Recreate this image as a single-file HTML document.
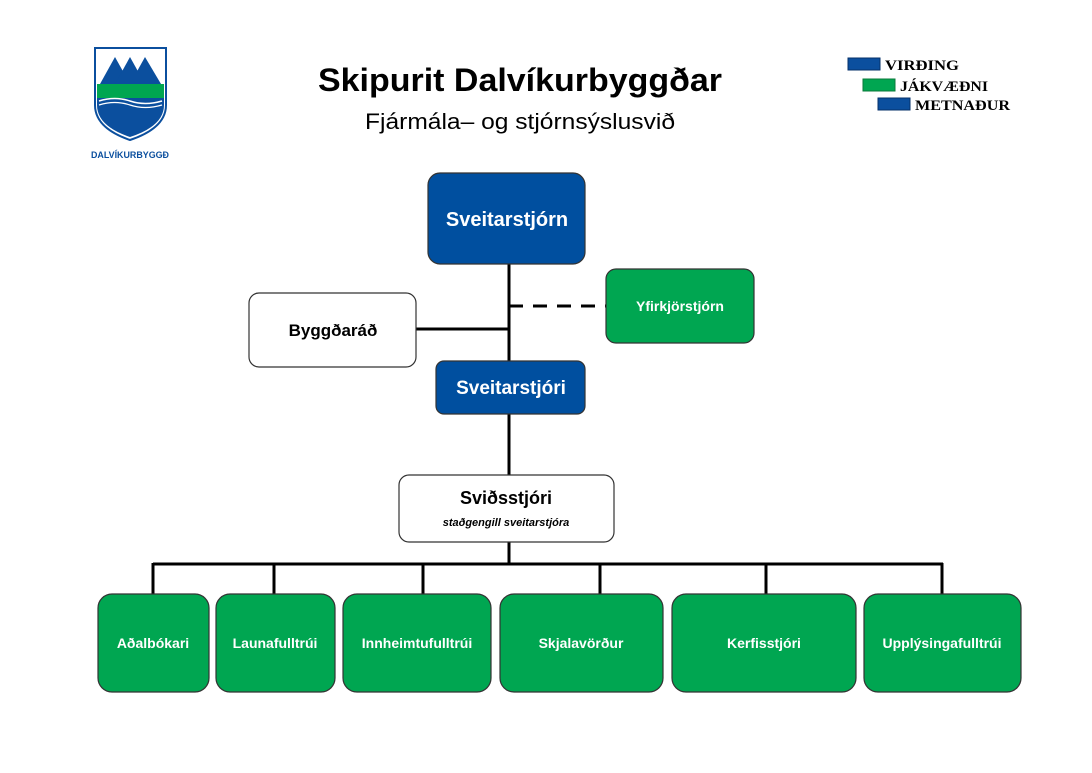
<!DOCTYPE html>
<html><head><meta charset="utf-8"><style>
html,body{margin:0;padding:0;background:#fff;}
svg{display:block;font-family:"Liberation Sans",sans-serif;}
</style></head><body>
<svg width="1092" height="773" viewBox="0 0 1092 773" xmlns="http://www.w3.org/2000/svg">
<g>
  <path d="M95,48 L166,48 L166,105 Q166,128 130,140 Q95,128 95,105 Z" fill="#fff" stroke="#0b4f9e" stroke-width="2"/>
  <polygon points="100,84 115,57 130,84" fill="#0b4f9e"/>
  <polygon points="115,84 130,57 145,84" fill="#0b4f9e"/>
  <polygon points="130,84 145,57 161,84" fill="#0b4f9e"/>
  <rect x="97" y="84" width="67" height="14" fill="#00a651"/>
  <path d="M97,98 L164,98 L164,105 Q164,126 130,137 Q97,126 97,105 Z" fill="#0b4f9e"/>
  <path d="M99,101 Q115,96 130,101 T162,101" fill="none" stroke="#fff" stroke-width="1.5"/>
  <path d="M99,105 Q115,100 130,105 T162,105" fill="none" stroke="#fff" stroke-width="1.2"/>
  <text x="130" y="158" font-size="9" font-weight="bold" fill="#0b4f9e" text-anchor="middle" textLength="78" lengthAdjust="spacingAndGlyphs">DALVÍKURBYGGÐ</text>
</g>
<text x="520" y="91" font-size="32" font-weight="bold" text-anchor="middle" textLength="404" lengthAdjust="spacingAndGlyphs">Skipurit Dalvíkurbyggðar</text>
<text x="520" y="129" font-size="22" text-anchor="middle" textLength="310" lengthAdjust="spacingAndGlyphs">Fjármála– og stjórnsýslusvið</text>
<rect x="848" y="58" width="32" height="12" fill="#0b4f9e" stroke="#06306a"/>
<text x="885" y="70" font-family="Liberation Serif" font-size="15" font-weight="bold" textLength="74" lengthAdjust="spacingAndGlyphs">VIRÐING</text>
<rect x="863" y="79" width="32" height="12" fill="#00a651" stroke="#0a7a3a"/>
<text x="900" y="91" font-family="Liberation Serif" font-size="15" font-weight="bold" textLength="88" lengthAdjust="spacingAndGlyphs">JÁKVÆÐNI</text>
<rect x="878" y="98" width="32" height="12" fill="#0b4f9e" stroke="#06306a"/>
<text x="915" y="110" font-family="Liberation Serif" font-size="15" font-weight="bold" textLength="95" lengthAdjust="spacingAndGlyphs">METNAÐUR</text>
<g stroke="#000" stroke-width="3" fill="none">
  <line x1="509" y1="264" x2="509" y2="475"/>
  <line x1="416" y1="329" x2="509" y2="329"/>
  <line x1="509" y1="306" x2="606" y2="306" stroke-dasharray="14,10"/>
  <line x1="509" y1="542" x2="509" y2="564"/>
  <line x1="153" y1="564" x2="943" y2="564"/>
  <line x1="153" y1="563" x2="153" y2="594"/>
  <line x1="274" y1="563" x2="274" y2="594"/>
  <line x1="423" y1="563" x2="423" y2="594"/>
  <line x1="600" y1="563" x2="600" y2="594"/>
  <line x1="766" y1="563" x2="766" y2="594"/>
  <line x1="942" y1="563" x2="942" y2="594"/>
</g>
<g stroke="#333" stroke-width="1.2">
  <rect x="428" y="173" width="157" height="91" rx="12" fill="#004f9f"/>
  <rect x="606" y="269" width="148" height="74" rx="10" fill="#00a651"/>
  <rect x="249" y="293" width="167" height="74" rx="10" fill="#fff"/>
  <rect x="436" y="361" width="149" height="53" rx="8" fill="#004f9f"/>
  <rect x="399" y="475" width="215" height="67" rx="10" fill="#fff"/>
  <rect x="98" y="594" width="111" height="98" rx="14" fill="#00a651"/>
  <rect x="216" y="594" width="119" height="98" rx="14" fill="#00a651"/>
  <rect x="343" y="594" width="148" height="98" rx="14" fill="#00a651"/>
  <rect x="500" y="594" width="163" height="98" rx="14" fill="#00a651"/>
  <rect x="672" y="594" width="184" height="98" rx="14" fill="#00a651"/>
  <rect x="864" y="594" width="157" height="98" rx="14" fill="#00a651"/>
</g>
<g font-weight="bold" text-anchor="middle">
  <text x="507" y="226" font-size="20" fill="#fff">Sveitarstjórn</text>
  <text x="680" y="311" font-size="14" fill="#fff">Yfirkjörstjórn</text>
  <text x="333" y="336" font-size="17" fill="#000">Byggðaráð</text>
  <text x="511" y="394" font-size="19" fill="#fff">Sveitarstjóri</text>
  <text x="506" y="504" font-size="18" fill="#000">Sviðsstjóri</text>
  <text x="506" y="526" font-size="11" font-style="italic" fill="#000">staðgengill sveitarstjóra</text>
  <g font-size="14" fill="#fff">
    <text x="153" y="648">Aðalbókari</text>
    <text x="275" y="648">Launafulltrúi</text>
    <text x="417" y="648">Innheimtufulltrúi</text>
    <text x="581" y="648">Skjalavörður</text>
    <text x="764" y="648">Kerfisstjóri</text>
    <text x="942" y="648">Upplýsingafulltrúi</text>
  </g>
</g>
</svg>
</body></html>
